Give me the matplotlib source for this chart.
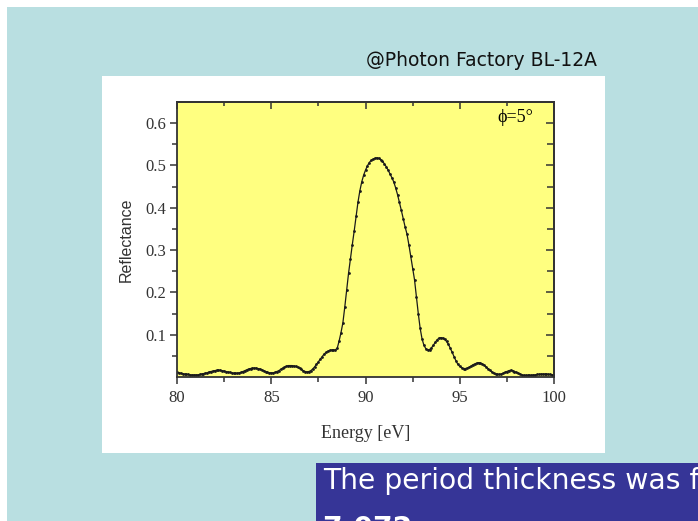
import numpy as np
import matplotlib
matplotlib.use("Agg")
import matplotlib.pyplot as plt
from matplotlib.patches import Rectangle
from matplotlib.ticker import FixedLocator, FormatStrFormatter

# Reflectance spectrum, phi = 5 deg, sampled every 0.1 eV from 80 to 100 eV
energy_start = 80.0
energy_step = 0.1
reflectance = [
    0.011, 0.010, 0.009, 0.008, 0.007, 0.006, 0.006, 0.005, 0.005, 0.005,   # 80.0-80.9
    0.005, 0.005, 0.006, 0.007, 0.008, 0.009, 0.010, 0.012, 0.013, 0.014,   # 81.0-81.9
    0.015, 0.016, 0.016, 0.016, 0.015, 0.014, 0.013, 0.012, 0.011, 0.010,   # 82.0-82.9
    0.009, 0.009, 0.009, 0.010, 0.011, 0.013, 0.015, 0.017, 0.019, 0.020,   # 83.0-83.9
    0.021, 0.021, 0.021, 0.020, 0.019, 0.017, 0.015, 0.013, 0.011, 0.010,   # 84.0-84.9
    0.010, 0.010, 0.011, 0.013, 0.015, 0.018, 0.021, 0.023, 0.025, 0.027,   # 85.0-85.9
    0.027, 0.027, 0.026, 0.025, 0.023, 0.021, 0.018, 0.015, 0.013, 0.012,   # 86.0-86.9
    0.013, 0.015, 0.019, 0.024, 0.030, 0.036, 0.042, 0.048, 0.054, 0.058,   # 87.0-87.9
    0.061, 0.063, 0.064, 0.064, 0.064, 0.068, 0.085, 0.105, 0.128, 0.165,   # 88.0-88.9
    0.205, 0.245, 0.280, 0.313, 0.345, 0.380, 0.413, 0.440, 0.461, 0.477,   # 89.0-89.9
    0.489, 0.499, 0.507, 0.512, 0.515, 0.517, 0.518, 0.517, 0.514, 0.510,   # 90.0-90.9
    0.504, 0.497, 0.489, 0.480, 0.471, 0.461, 0.447, 0.431, 0.413, 0.394,   # 91.0-91.9
    0.374, 0.355, 0.338, 0.313, 0.285, 0.256, 0.230, 0.190, 0.150, 0.115,   # 92.0-92.9
    0.090, 0.075, 0.067, 0.064, 0.065, 0.069, 0.075, 0.082, 0.088, 0.092,   # 93.0-93.9
    0.093, 0.092, 0.089, 0.084, 0.077, 0.068, 0.058, 0.048, 0.038, 0.030,   # 94.0-94.9
    0.025, 0.022, 0.020, 0.020, 0.021, 0.023, 0.026, 0.029, 0.031, 0.033,   # 95.0-95.9
    0.034, 0.033, 0.031, 0.028, 0.024, 0.020, 0.016, 0.012, 0.009, 0.007,   # 96.0-96.9
    0.006, 0.006, 0.007, 0.009, 0.011, 0.013, 0.015, 0.016, 0.015, 0.013,   # 97.0-97.9
    0.011, 0.009, 0.007, 0.005, 0.004, 0.004, 0.004, 0.004, 0.004, 0.005,   # 98.0-98.9
    0.005, 0.006, 0.006, 0.007, 0.007, 0.007, 0.007, 0.006, 0.006, 0.005,   # 99.0-99.9
    0.005,                                                                  # 100.0
]
energy = energy_start + energy_step * np.arange(len(reflectance))

x_major = [80, 85, 90, 95, 100]
x_minor = [82.5, 87.5, 92.5, 97.5]
y_major = [0.1, 0.2, 0.3, 0.4, 0.5, 0.6]
y_minor = [0.05, 0.15, 0.25, 0.35, 0.45, 0.55]

W, H = 698, 521
teal = "#b9dfe1"
navy = "#363597"
serif = ["Liberation Serif", "DejaVu Serif"]


def box(x0, y0, x1, y1):
    # pixel box (top-left origin) -> figure fractions
    return (x0 / W, 1 - y1 / H), (x1 - x0) / W, (y1 - y0) / H


fig = plt.figure(figsize=(W / 100, H / 100), dpi=100)
fig.patch.set_facecolor(teal)

for (x0, y0, x1, y1), c in [((0, 0, W, 7), "white"), ((0, 0, 7, H), "white"),
                            ((102, 76, 605, 453), "white"), ((316, 463, W, H), navy)]:
    xy, w, h = box(x0, y0, x1, y1)
    fig.patches.append(Rectangle(xy, w, h, transform=fig.transFigure,
                                 facecolor=c, edgecolor="none", zorder=-5))

ax = fig.add_axes([177 / W, 1 - 377 / H, 377 / W, 275 / H])
ax.set_facecolor("#ffff80")
ax.plot(energy, reflectance, color="#1a1a1a", lw=0.9, marker="o", ms=2.0,
        markeredgewidth=0)
ax.set_xlim(80, 100)
ax.set_ylim(0, 0.65)

ax.xaxis.set_major_locator(FixedLocator(x_major))
ax.xaxis.set_minor_locator(FixedLocator(x_minor))
ax.yaxis.set_major_locator(FixedLocator(y_major))
ax.yaxis.set_minor_locator(FixedLocator(y_minor))
ax.yaxis.set_major_formatter(FormatStrFormatter("%.1f"))

ax.tick_params(which="both", direction="out", top=False, right=False,
               width=1.1, color="#333333")
ax.tick_params(which="major", length=5)
ax.tick_params(which="minor", length=3.5)
ax.tick_params(axis="x", pad=4)
ax.tick_params(axis="y", pad=3)
for lab in ax.get_xticklabels() + ax.get_yticklabels():
    lab.set_family(serif)
    lab.set_fontsize(12)
    lab.set_color("#333333")
for sp in ax.spines.values():
    sp.set_linewidth(1.3)
    sp.set_color("#333333")

# inward ticks on top and right, no labels
top = ax.secondary_xaxis("top")
top.xaxis.set_major_locator(FixedLocator(x_major))
top.xaxis.set_minor_locator(FixedLocator(x_minor))
top.tick_params(which="both", direction="in", labeltop=False, width=1.1, color="#333333")
top.tick_params(which="major", length=5)
top.tick_params(which="minor", length=3)
right = ax.secondary_yaxis("right")
right.yaxis.set_major_locator(FixedLocator(y_major))
right.yaxis.set_minor_locator(FixedLocator(y_minor))
right.tick_params(which="both", direction="in", labelright=False, width=1.1, color="#333333")
right.tick_params(which="major", length=5.5)
right.tick_params(which="minor", length=5)
for sec in (top, right):
    for sp in sec.spines.values():
        sp.set_linewidth(1.3)
        sp.set_color("#333333")

ax.set_xlabel("Energy [eV]", family=serif, fontsize=13, color="#333333", labelpad=14)
ax.set_ylabel("Reflectance", family=["Liberation Sans", "DejaVu Sans"], fontsize=11.5,
              color="#333333", labelpad=8)

ax.text(0.944, 0.945, "\u03d5=5\u00b0", transform=ax.transAxes, ha="right", va="center",
        family=serif, fontsize=13, color="black")

fig.text(597 / W, 1 - 60 / H, "@Photon Factory BL-12A", ha="right", va="center",
         family=["DejaVu Sans"], fontsize=13.5, color="#111111")

# slide caption, cut off by the right and bottom edges as in the original
fig.text(323 / W, 1 - 489 / H, "The period thickness was found to be", ha="left",
         va="baseline", family=["DejaVu Sans"], fontsize=20.3, color="white")
fig.text(323 / W, 1 - 515 / H, "7.072 nm.", ha="left", va="top",
         family=["DejaVu Sans"], fontsize=20.3, fontweight="bold", color="white")

fig.savefig("out.png", dpi=100, facecolor=fig.get_facecolor())
